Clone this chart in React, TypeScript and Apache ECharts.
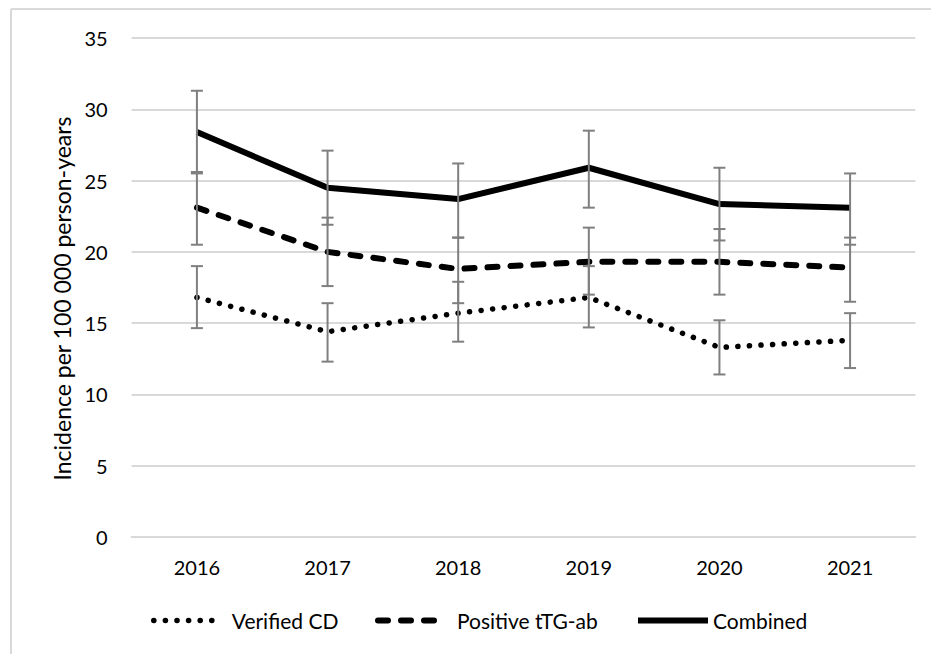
import React, { useEffect, useRef } from "react";
import * as echarts from "echarts";

const years = ["2016", "2017", "2018", "2019", "2020", "2021"];
const yTicks = [0, 5, 10, 15, 20, 25, 30, 35];

const verified = [16.8, 14.4, 15.7, 16.8, 13.3, 13.8];
const verifiedLow = [14.65, 12.3, 13.7, 14.7, 11.4, 11.85];
const verifiedHigh = [19.0, 16.4, 17.9, 19.0, 15.2, 15.7];

const positive = [23.1, 20.0, 18.8, 19.3, 19.3, 18.9];
const positiveLow = [20.5, 17.6, 16.4, 17.0, 17.0, 16.5];
const positiveHigh = [25.6, 22.4, 21.0, 21.7, 21.6, 21.0];

const combined = [28.4, 24.5, 23.7, 25.9, 23.35, 23.1];
const combinedLow = [25.5, 21.9, 21.0, 23.1, 20.8, 20.5];
const combinedHigh = [31.3, 27.1, 26.2, 28.5, 25.9, 25.5];

const FONT = "Lato";

const dottedStyle = { color: "#000", width: 5.5, type: [0.1, 11.5], cap: "round" };
const dashedStyle = { color: "#000", width: 6, type: [10, 13], cap: "round" };
const solidStyle = { color: "#000", width: 6, type: "solid", cap: "butt" };

function errorSeries(name: string, low: number[], high: number[]) {
  return {
    type: "custom",
    name: name + "-err",
    z: 5,
    silent: true,
    data: years.map((_, i) => [i, low[i], high[i]]),
    renderItem: (params: any, api: any) => {
      const lo = api.coord([api.value(0), api.value(1)]);
      const hi = api.coord([api.value(0), api.value(2)]);
      const hw = 6;
      const style = { stroke: "#7f7f7f", lineWidth: 2 };
      return {
        type: "group",
        children: [
          { type: "line", shape: { x1: lo[0], y1: lo[1], x2: hi[0], y2: hi[1] }, style },
          { type: "line", shape: { x1: lo[0] - hw, y1: lo[1], x2: lo[0] + hw, y2: lo[1] }, style },
          { type: "line", shape: { x1: hi[0] - hw, y1: hi[1], x2: hi[0] + hw, y2: hi[1] }, style },
        ],
      };
    },
  };
}

function legendFor(name: string, left: number, width: number, pad: number, ls: any) {
  return {
    data: [name],
    left,
    top: 605,
    orient: "horizontal",
    itemWidth: width,
    itemHeight: 14,
    itemStyle: { opacity: 0 },
    lineStyle: ls,
    textStyle: { fontFamily: FONT, fontSize: 21, color: "#000", padding: [0, 0, 0, pad] },
  };
}

export default function App() {
  const ref = useRef<HTMLDivElement>(null);
  useEffect(() => {
    if (!ref.current) return;
    const chart = echarts.init(ref.current, null, { renderer: "svg" });
    chart.setOption({
      animation: false,
      backgroundColor: "#fff",
      textStyle: { fontFamily: FONT },
      grid: { left: 131.6, right: 15.6, top: 38, bottom: 117, containLabel: false },
      xAxis: {
        type: "category",
        data: years,
        boundaryGap: true,
        axisLine: { show: true, lineStyle: { color: "#d9d9d9", width: 2 } },
        axisTick: { show: false },
        axisLabel: { fontFamily: FONT, fontSize: 20, color: "#000", margin: 20 },
      },
      yAxis: {
        type: "value",
        min: 0,
        max: 35,
        interval: 5,
        name: "Incidence per 100 000 person-years",
        nameLocation: "middle",
        nameRotate: 90,
        nameGap: 58,
        nameTextStyle: {
          fontFamily: FONT,
          fontSize: 23,
          color: "#000",
          padding: [0, 22, 0, 0],
        },
        axisLine: { show: false },
        axisTick: { show: false },
        axisLabel: {
          fontFamily: FONT,
          fontSize: 20,
          color: "#000",
          margin: 24,
          formatter: (v: number) => (yTicks.includes(v) ? String(v) : ""),
        },
        splitLine: { lineStyle: { color: "#d9d9d9", width: 2 } },
      },
      legend: [
        legendFor("Verified CD", 146, 59, 14, dottedStyle),
        legendFor("Positive tTG-ab", 370, 63, 11, dashedStyle),
        legendFor("Combined", 630, 70, 0, solidStyle),
      ],
      graphic: [
        {
          type: "line",
          shape: { x1: 11, y1: 9, x2: 931, y2: 9 },
          style: { stroke: "#d9d9d9", lineWidth: 2 },
        },
        {
          type: "line",
          shape: { x1: 11, y1: 9, x2: 11, y2: 654 },
          style: { stroke: "#d9d9d9", lineWidth: 2 },
        },
      ],
      series: [
        {
          type: "line",
          name: "Verified CD",
          data: verified,
          symbol: "none",
          z: 3,
          color: "#000",
          lineStyle: dottedStyle,
        },
        {
          type: "line",
          name: "Positive tTG-ab",
          data: positive,
          symbol: "none",
          z: 3,
          color: "#000",
          lineStyle: dashedStyle,
        },
        {
          type: "line",
          name: "Combined",
          data: combined,
          symbol: "none",
          z: 3,
          color: "#000",
          lineStyle: solidStyle,
        },
        errorSeries("Verified CD", verifiedLow, verifiedHigh),
        errorSeries("Positive tTG-ab", positiveLow, positiveHigh),
        errorSeries("Combined", combinedLow, combinedHigh),
      ],
    });
    return () => chart.dispose();
  }, []);
  return (
    <div
      ref={ref}
      style={{ position: "fixed", left: 0, top: 0, width: 931, height: 654 }}
    />
  );
}
